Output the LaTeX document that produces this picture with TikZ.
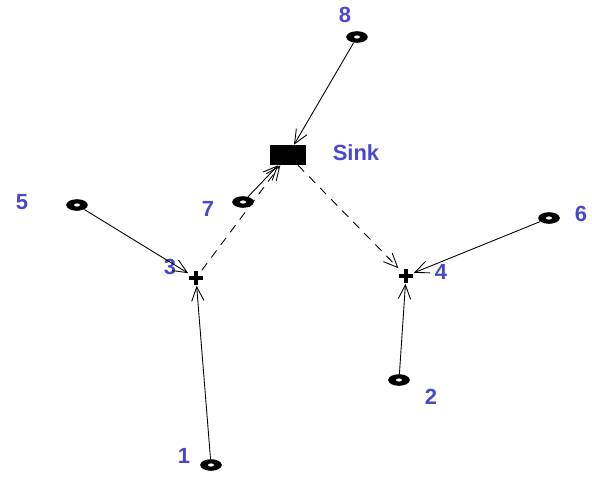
\documentclass[tikz,border=0pt]{standalone}
\usepackage{fontspec}
\setmainfont{Liberation Sans}
\usetikzlibrary{arrows.meta,shapes.geometric}
\definecolor{idblue}{RGB}{72,72,205}
\tikzset{
  sensor/.style={ellipse,fill=black,inner sep=0pt,minimum width=12.3pt,minimum height=6.6pt,
    path picture={\fill[white] (path picture bounding box.center) ellipse (1.7pt and 0.9pt);}},
  relay/.style={inner sep=0pt,minimum size=8.5pt,
    path picture={\draw[line width=2.2pt] (path picture bounding box.north) -- (path picture bounding box.south)
      (path picture bounding box.west) -- (path picture bounding box.east);}},
  sinkbox/.style={fill=black,inner sep=0pt,minimum width=21pt,minimum height=11.3pt},
  idtext/.style={text=idblue,font=\fontsize{12.5}{14}\selectfont\bfseries},
  link/.style={line width=0.5pt,-{Straight Barb[length=8pt,width=7pt]}},
  hop/.style={link,dash pattern=on 5pt off 4pt}
}
\begin{document}
\begin{tikzpicture}[x=0.02cm,y=-0.02cm]
  \useasboundingbox (0,0) rectangle (592,491);
  % sink and relays
  \node[sinkbox] (sink) at (288,155) {};
  \node[relay] (n3) at (196,278) {};
  \node[relay] (n4) at (406,276) {};
  % sensors
  \node[sensor] (n1) at (211,465) {};
  \node[sensor] (n2) at (399,380) {};
  \node[sensor] (n5) at (77,205) {};
  \node[sensor] (n6) at (549,218) {};
  \node[sensor] (n7) at (243,202) {};
  \node[sensor] (n8) at (357,37) {};
  % labels
  \node[idtext] (tsink) at (356,153) {Sink};
  \node[idtext] (t1) at (184,456) {1};
  \node[idtext] (t2) at (431,397) {2};
  \node[idtext] (t3) at (170,267) {3};
  \node[idtext] (t4) at (441,272) {4};
  \node[idtext] (t5) at (22,202) {5};
  \node[idtext] (t6) at (581,214) {6};
  \node[idtext] (t7) at (208,209) {7};
  \node[idtext] (t8) at (345,15) {8};
  % links
  \draw[link] (n8) -- (sink);
  \draw[link] (n7) -- (sink);
  \draw[hop] (n3) -- (sink);
  \draw[hop] (sink) -- (n4);
  \draw[link] (n5) -- (n3);
  \draw[link] (n1) -- (n3);
  \draw[link] (n6) -- (n4);
  \draw[link] (n2) -- (n4);
\end{tikzpicture}
\end{document}
